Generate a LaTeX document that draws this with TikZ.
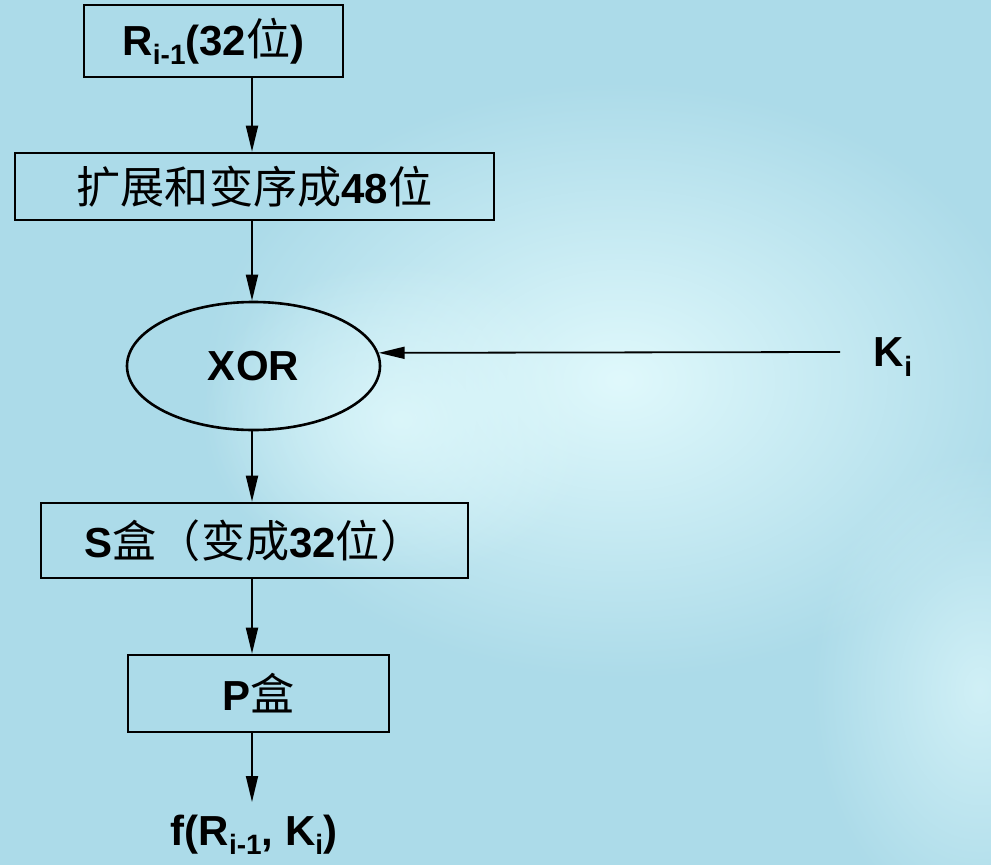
\documentclass[tikz,border=0pt]{standalone}
\usepackage{fontspec}
\setmainfont{Liberation Sans}
\newfontfamily\cjk[Scale=1.05]{Noto Sans CJK SC}
\usetikzlibrary{shapes.geometric,arrows.meta,fadings}
\definecolor{bgblue}{RGB}{172,219,233}
\definecolor{bglight}{RGB}{224,249,252}
\tikzfading[name=softglow, inner color=transparent!0, outer color=transparent!100]
\newcommand\mysub[1]{\raisebox{-0.42ex}{\fontsize{28}{28}\selectfont\bfseries #1}}
\begin{document}
\begin{tikzpicture}[x=1pt,y=-1pt,
  every node/.style={font=\fontsize{42}{42}\selectfont\bfseries, inner sep=0pt},
  boxnode/.style={draw=black, line width=2.6pt, rectangle, anchor=center},
  glow/.style={fill=bglight, path fading=softglow},
  conn/.style={draw=black, line width=1.8pt, -{Stealth[length=26pt,width=12pt,inset=0pt]}}]
\useasboundingbox (0,0) rectangle (991,865);
\fill[bgblue] (0,0) rectangle (991,865);
\begin{scope}
\clip (0,0) rectangle (991,865);
\fill[glow, fill opacity=1] (620,380) ellipse [x radius=420, y radius=300];
\fill[glow, fill opacity=0.8] (400,420) ellipse [x radius=200, y radius=160];
\fill[glow, fill opacity=0.7] (980,690) ellipse [x radius=170, y radius=240];
\end{scope}
\coordinate (col) at (252,0);
\node[boxnode, minimum width=259pt, minimum height=72pt] (b1) at (213.5,41) {R\mysub{i-1}(32{\cjk\mdseries 位})};
\node[boxnode, minimum width=479pt, minimum height=67pt] (b2) at (254.5,186.5) {{\cjk\mdseries 扩展和变序成}48{\cjk\mdseries 位}};
\node[draw=black, line width=2.6pt, ellipse, minimum width=253pt, minimum height=128pt] (xor) at (253.5,366) {XOR};
\node (ki) at (893,357) {K\mysub{i}};
\coordinate (kistart) at (840,352);
\node[boxnode, minimum width=427pt, minimum height=75pt] (sbox) at (254.5,540.5) {S{\cjk\mdseries 盒（变成}32{\cjk\mdseries 位）}};
\node[boxnode, minimum width=261pt, minimum height=77pt] (pbox) at (258.5,693.5) {P{\cjk\mdseries 盒}};
\node[anchor=north] (fout) at (254,815) {f(R\mysub{i-1}, K\mysub{i})};
\coordinate (fend) at (252,802);
\draw[conn] (b1.south -| col) -- (b2.north -| col);
\draw[conn] (b2.south -| col) -- (xor.north -| col);
\draw[conn] (xor.south -| col) -- (sbox.north -| col);
\draw[conn] (sbox.south -| col) -- (pbox.north -| col);
\draw[conn] (pbox.south -| col) -- (fend);
\draw[conn] (kistart) -- (xor.6);
\end{tikzpicture}
\end{document}
